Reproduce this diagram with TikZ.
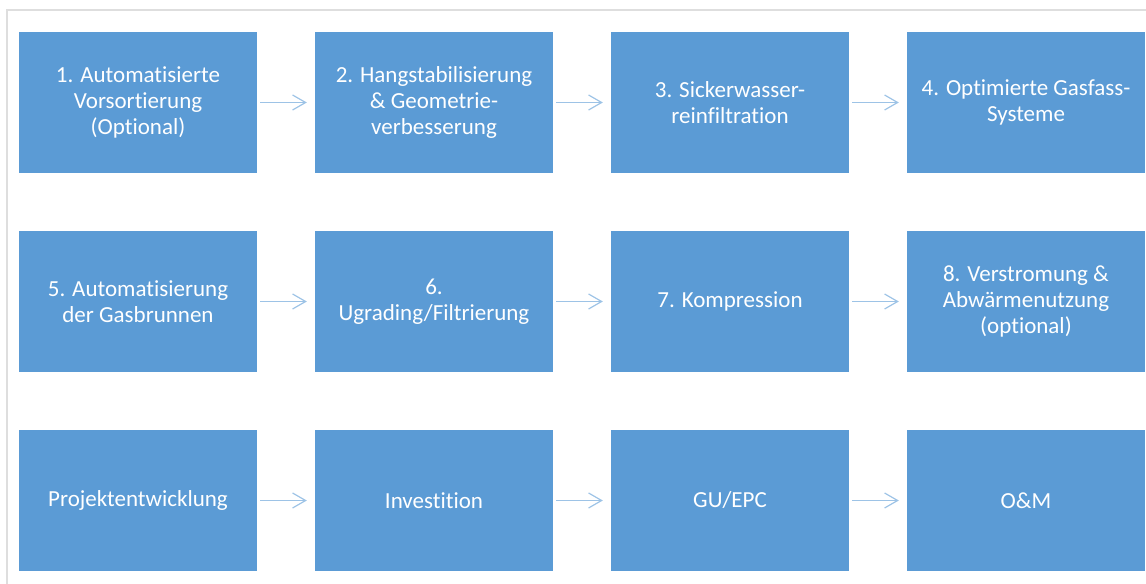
\documentclass[tikz,border=0pt]{standalone}
\usepackage{fontspec}
\setmainfont[Ligatures={NoCommon}]{Carlito}
\usetikzlibrary{arrows.meta,positioning}
\definecolor{boxblue}{RGB}{91,155,213}
\definecolor{arrowblue}{RGB}{157,195,230}
\definecolor{framegray}{RGB}{222,222,222}
\tikzset{
  stepbox/.style={fill=boxblue, text=white, minimum width=238bp, minimum height=141bp,
    inner sep=0pt, align=center, font=\fontsize{23bp}{26bp}\selectfont},
  arr/.style={draw=arrowblue, line width=1.2bp, -{Straight Barb[length=13bp,width=15bp]},
    shorten <=3bp, shorten >=8bp}
}

\begin{document}
\begin{tikzpicture}[x=1bp, y=-1bp]
      \useasboundingbox (0, 0) rectangle (1146, 584);
      \draw[framegray, line width=1.5bp] (7, 584) -- (7, 10) -- (1146, 10);

      % first row
      \node[stepbox] (b1) at (138, 102.5) {1. Automatisierte\\Vorsortierung\\(Optional)};
      \node[stepbox] (b2) at (434, 102.5) {2. Hangstabilisierung\\\& Geometrie-\\verbesserung};
      \node[stepbox] (b3) at (730, 102.5) {3. Sickerwasser-\\reinfiltration};
      \node[stepbox] (b4) at (1026, 102.5) {4. Optimierte Gasfass-\\Systeme};

      % second row
      \node[stepbox] (b5) at (138, 301.5) {5. Automatisierung\\der Gasbrunnen};
      \node[stepbox] (b6) at (434, 301.5) {6.\\Ugrading/Filtrierung};
      \node[stepbox] (b7) at (730, 301.5) {7. Kompression};
      \node[stepbox] (b8) at (1026, 301.5) {8. Verstromung \&\\Abwärmenutzung\\(optional)};

      % third row
      \node[stepbox] (c1) at (138, 500.5) {Projektentwicklung};
      \node[stepbox] (c2) at (434, 500.5) {Investition};
      \node[stepbox] (c3) at (730, 500.5) {GU/EPC};
      \node[stepbox] (c4) at (1026, 500.5) {O\&M};

      \draw[arr] (b1) -- (b2);
      \draw[arr] (b2) -- (b3);
      \draw[arr] (b3) -- (b4);

      \draw[arr] (b5) -- (b6);
      \draw[arr] (b6) -- (b7);
      \draw[arr] (b7) -- (b8);

      \draw[arr] (c1) -- (c2);
      \draw[arr] (c2) -- (c3);
      \draw[arr] (c3) -- (c4);
\end{tikzpicture}
\end{document}
